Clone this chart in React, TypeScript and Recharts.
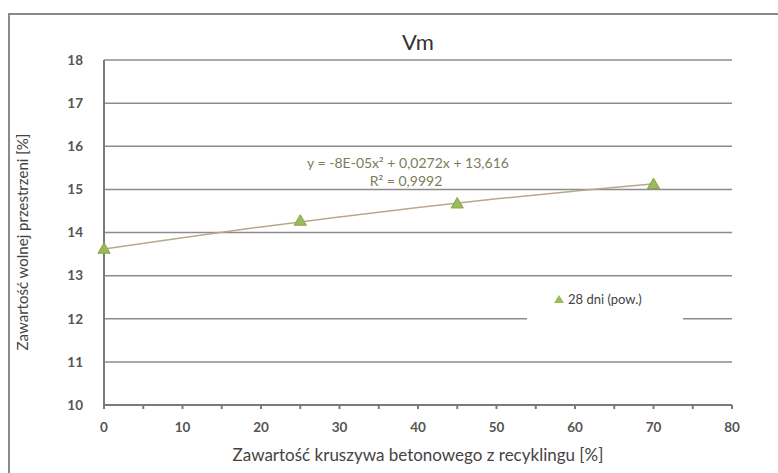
import { ComposedChart, Scatter, Line, XAxis, YAxis, CartesianGrid } from "recharts";

// measured points (28 dni, pow.)
const recycledShare = [0, 25, 45, 70];
const voidContent = [13.6, 14.25, 14.65, 15.1];

// polynomial trendline
const trendX = [0, 10, 20, 30, 40, 50, 60, 70];
const trendY = [13.62, 13.88, 14.13, 14.36, 14.58, 14.78, 14.96, 15.13];

const xTicks = [0, 5, 10, 15, 20, 25, 30, 35, 40, 45, 50, 55, 60, 65, 70, 75, 80];
const yTicks = [10, 11, 12, 13, 14, 15, 16, 17, 18];

const points = recycledShare.map((x, i) => ({ x, y: voidContent[i] }));
const trend = trendX.map((x, i) => ({ x, t: trendY[i] }));

const font = "Lato, 'Open Sans', sans-serif";

export default function App() {
  return (
    <div style={{ position: "absolute", left: 0, top: 0, width: 778, height: 473, overflow: "hidden", background: "white" }}>
      {/* chart frame */}
      <div style={{
        position: "absolute", left: 8, top: 13, width: 800, height: 500,
        borderLeft: "2px solid #8a8a8a", borderTop: "2px solid #8a8a8a",
      }} />
      <ComposedChart
        width={778}
        height={473}
        margin={{ top: 60, right: 46, bottom: 38, left: 0 }}
        style={{ position: "absolute", left: 0, top: 0 }}
      >
        <CartesianGrid vertical={false} stroke="#8c8c8c" strokeWidth={1.5} />
        <XAxis
          type="number"
          dataKey="x"
          domain={[0, 80]}
          ticks={xTicks}
          interval={0}
          tickFormatter={(v) => (v % 10 === 0 ? String(v) : "")}
          stroke="#7a7a7a"
          strokeWidth={2}
          tickSize={4}
          tickMargin={13}
          tick={{ fill: "#555", fontSize: 13.5, fontFamily: font, fontWeight: 700 }}
          allowDuplicatedCategory={false}
        />
        <YAxis
          type="number"
          domain={[10, 18]}
          ticks={yTicks}
          interval={0}
          width={104}
          stroke="#7a7a7a"
          strokeWidth={2}
          tickLine={false}
          tickMargin={15}
          tick={{ fill: "#555", fontSize: 13.5, fontFamily: font, fontWeight: 700 }}
        />
        <Line
          data={trend}
          dataKey="t"
          type="monotone"
          stroke="#b8a888"
          strokeWidth={1.5}
          dot={false}
          activeDot={false}
          legendType="none"
          isAnimationActive={false}
        />
        <Scatter
          data={points}
          dataKey="y"
          name="28 dni (pow.)"
          shape="triangle"
          fill="#9bbb59"
          stroke="#86a64a"
          isAnimationActive={false}
        />
      </ComposedChart>
      {/* title, legend, axis titles and trendline equation */}
      <svg width={778} height={473} style={{ position: "absolute", left: 0, top: 0, pointerEvents: "none" }}>
        <text x={418} y={50} textAnchor="middle" fontFamily={font} fontSize={22} fill="#333">Vm</text>
        <text x={408} y={168} textAnchor="middle" fontFamily={font} fontSize={14} fill="#7c7c58">
          y = -8E-05x² + 0,0272x + 13,616
        </text>
        <text x={406} y={186} textAnchor="middle" fontFamily={font} fontSize={14} fill="#7c7c58">
          R² = 0,9992
        </text>
        <rect x={527} y={286} width={156} height={44} fill="white" />
        <polygon points="559,295 564,303 554,303" fill="#9bbb59" />
        <text x={568} y={304} fontFamily={font} fontSize={13} fill="#444">28 dni (pow.)</text>
        <text x={418} y={461} textAnchor="middle" fontFamily={font} fontSize={17} fill="#444">
          Zawartość kruszywa betonowego z recyklingu [%]
        </text>
        <text
          x={28}
          y={242}
          textAnchor="middle"
          fontFamily={font}
          fontSize={15}
          fill="#444"
          transform="rotate(-90 28 242)"
        >
          Zawartość wolnej przestrzeni [%]
        </text>
      </svg>
    </div>
  );
}
